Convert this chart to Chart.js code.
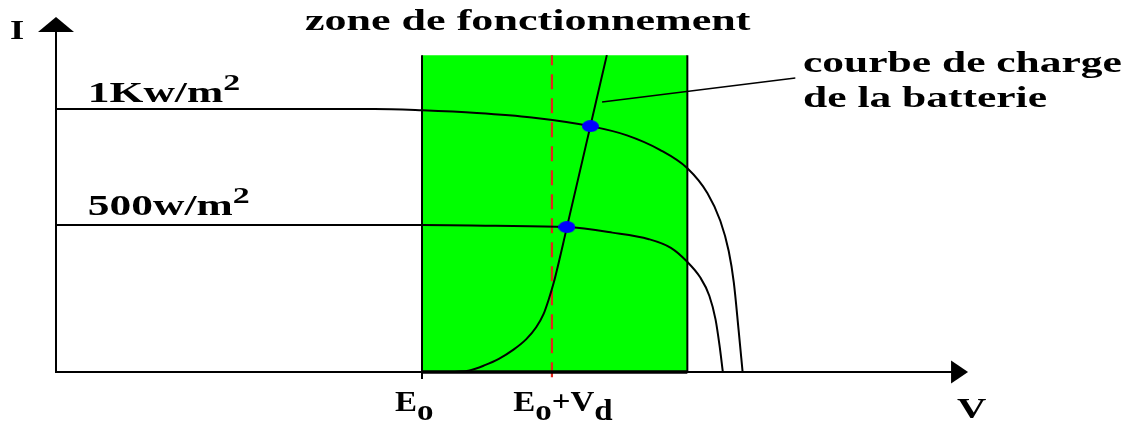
<!DOCTYPE html>
<html lang="fr">
<head>
<meta charset="utf-8">
<title>Zone de fonctionnement</title>
<script src="https://cdn.jsdelivr.net/npm/chart.js@4.4.1/dist/chart.umd.min.js"></script>
<style>
  html, body { margin: 0; padding: 0; background: #fff; }
  #wrap { width: 1135px; height: 426px; }
</style>
</head>
<body>
<div id="wrap"><canvas id="chart"></canvas></div>
<script>
// ─── DONNÉES (V et I en unités arbitraires, E0 = 10) ─────────────
const V_MAX = 25;
const I_MAX = 13.5;

// zone de fonctionnement
const zoneV = [10, 17.25];
const zoneTop = 12.05;
const E0 = 10;
const E0Vd = 13.55;

// caractéristique I(V) à 1 kW/m²
const k1000V = [0, 8.7, 10, 11.5, 13, 14.6, 15.6, 16.5, 17.25, 17.8, 18.15, 18.38, 18.52, 18.65, 18.76];
const k1000I = [10, 10, 9.95, 9.85, 9.68, 9.35, 9.0, 8.45, 7.75, 6.8, 5.75, 4.6, 3.4, 1.6, 0];

// caractéristique I(V) à 500 W/m²
const w500V = [0, 10, 12, 13.96, 15.2, 16.2, 16.8, 17.24, 17.6, 17.85, 18.02, 18.13, 18.22];
const w500I = [5.59, 5.59, 5.56, 5.51, 5.3, 5.05, 4.72, 4.2, 3.6, 2.9, 2.0, 1.0, 0];

// courbe de charge de la batterie
const chargeV = [10.9, 11.3, 11.7, 12.1, 12.5, 12.85, 13.12, 13.32, 13.46, 13.6, 13.96, 14.6, 15.05];
const chargeI = [0, 0.06, 0.25, 0.5, 0.85, 1.25, 1.7, 2.2, 2.75, 3.4, 5.51, 9.35, 12.05];

// points de fonctionnement
const opV = [14.6, 13.96];
const opI = [9.35, 5.51];

// trait de rappel vers la légende
const leaderV = [14.92, 20.2];
const leaderI = [10.27, 11.18];

// ─── TEXTES ─────────────────────────────────────────────────────
const SERIF = "'Liberation Serif', 'DejaVu Serif', serif";
const labels = [
  { runs: [{ t: "I" }], v: -1.26, i: 12.65, size: 28, sx: 1.3 },
  { runs: [{ t: "zone de fonctionnement" }], v: 6.8, i: 13.0, size: 29, sx: 1.52 },
  { runs: [{ t: "1Kw/m" }, { t: "2", sup: true }], v: 0.87, i: 10.27, size: 29, sx: 1.5 },
  { runs: [{ t: "500w/m" }, { t: "2", sup: true }], v: 0.87, i: 5.97, size: 29, sx: 1.5 },
  { runs: [{ t: "courbe de charge" }], v: 20.41, i: 11.41, size: 29, sx: 1.5 },
  { runs: [{ t: "de la batterie" }], v: 20.41, i: 10.08, size: 29, sx: 1.5 },
  { runs: [{ t: "E" }, { t: "o", sub: true }], v: 9.26, i: -1.48, size: 30, sx: 1.1 },
  { runs: [{ t: "E" }, { t: "o", sub: true }, { t: "+" }, { t: "V" }, { t: "d", sub: true }], v: 12.49, i: -1.48, size: 30, sx: 1.1 },
  { runs: [{ t: "V" }], v: 24.62, i: -1.75, size: 29, sx: 1.4 },
];

const pts = (xs, ys) => xs.map((x, k) => ({ x, y: ys[k] }));

// point bleu légèrement elliptique
const dot = document.createElement("canvas");
dot.width = 17; dot.height = 12;
const dctx = dot.getContext("2d");
dctx.fillStyle = "#0000ff";
dctx.beginPath();
dctx.ellipse(8.5, 6, 8.5, 6, 0, 0, Math.PI * 2);
dctx.fill();

function drawRuns(ctx, runs, x, y, size, sx) {
  ctx.save();
  ctx.translate(x, y);
  ctx.scale(sx, 1);
  ctx.textAlign = "left";
  ctx.textBaseline = "alphabetic";
  ctx.fillStyle = "#000";
  let cx = 0;
  for (const r of runs) {
    const fs = r.sup ? size * 0.78 : size;
    const dy = r.sup ? -size * 0.42 : r.sub ? size * 0.3 : 0;
    ctx.font = `bold ${fs}px ${SERIF}`;
    ctx.fillText(r.t, cx, dy);
    cx += ctx.measureText(r.t).width;
  }
  ctx.restore();
}

// axes fléchés + textes
const schema = {
  id: "schema",
  afterDatasetsDraw(chart) {
    const { ctx, scales: { x, y } } = chart;
    const x0 = x.getPixelForValue(0), y0 = y.getPixelForValue(0);
    const yTop = y.getPixelForValue(I_MAX);
    const xEnd = x.getPixelForValue(24.92);
    ctx.save();
    ctx.strokeStyle = "#000";
    ctx.fillStyle = "#000";
    ctx.lineWidth = 2;
    ctx.beginPath();
    ctx.moveTo(x0, yTop + 10); ctx.lineTo(x0, y0);
    ctx.lineTo(xEnd - 10, y0);
    ctx.stroke();
    // bas de la zone plus épais
    ctx.lineWidth = 3.5;
    ctx.beginPath();
    ctx.moveTo(x.getPixelForValue(zoneV[0]), y0);
    ctx.lineTo(x.getPixelForValue(zoneV[1]), y0);
    ctx.stroke();
    // graduation E0
    ctx.lineWidth = 2;
    ctx.beginPath();
    ctx.moveTo(x.getPixelForValue(E0), y0);
    ctx.lineTo(x.getPixelForValue(E0), y0 + 7);
    ctx.stroke();
    // flèches
    ctx.beginPath();
    ctx.moveTo(x0, yTop); ctx.lineTo(x0 - 18, yTop + 15); ctx.lineTo(x0 + 18, yTop + 15);
    ctx.closePath(); ctx.fill();
    ctx.beginPath();
    ctx.moveTo(xEnd, y0); ctx.lineTo(xEnd - 17, y0 - 11.5); ctx.lineTo(xEnd - 17, y0 + 11.5);
    ctx.closePath(); ctx.fill();
    ctx.restore();

    labels.forEach(l => drawRuns(ctx, l.runs, x.getPixelForValue(l.v), y.getPixelForValue(l.i), l.size, l.sx));
  },
};

const line = (data, extra) => Object.assign({
  type: "line", data, borderColor: "#000", borderWidth: 2,
  pointRadius: 0, fill: false, clip: false, order: 1,
}, extra);

new Chart(document.getElementById("chart"), {
  type: "line",
  data: {
    datasets: [
      line(pts(opV, opI), { showLine: false, pointRadius: 6, pointStyle: dot, order: 0 }),
      line(pts(k1000V, k1000I), { cubicInterpolationMode: "monotone" }),
      line(pts(w500V, w500I), { cubicInterpolationMode: "monotone" }),
      line(pts(chargeV, chargeI), { cubicInterpolationMode: "monotone" }),
      line(pts(leaderV, leaderI), { borderWidth: 1.6 }),
      line([{ x: E0Vd, y: -0.2 }, { x: E0Vd, y: zoneTop }], { borderColor: "#e0261c", borderWidth: 2.2, borderDash: [15, 9], order: 2 }),
      line([{ x: zoneV[0], y: zoneTop }, { x: zoneV[0], y: 0 }, { x: zoneV[1], y: 0 }, { x: zoneV[1], y: zoneTop }], { order: 3 }),
      line(pts(zoneV, [zoneTop, zoneTop]), { borderWidth: 0, fill: "origin", backgroundColor: "#00ff00", order: 10 }),
    ],
  },
  options: {
    responsive: true,
    maintainAspectRatio: false,
    animation: false,
    events: [],
    layout: { padding: { left: 56, right: 164, top: 17, bottom: 54 } },
    plugins: { legend: { display: false }, tooltip: { enabled: false } },
    scales: {
      x: { type: "linear", min: 0, max: V_MAX, display: false },
      y: { type: "linear", min: 0, max: I_MAX, display: false },
    },
  },
  plugins: [schema],
});
</script>
</body>
</html>
